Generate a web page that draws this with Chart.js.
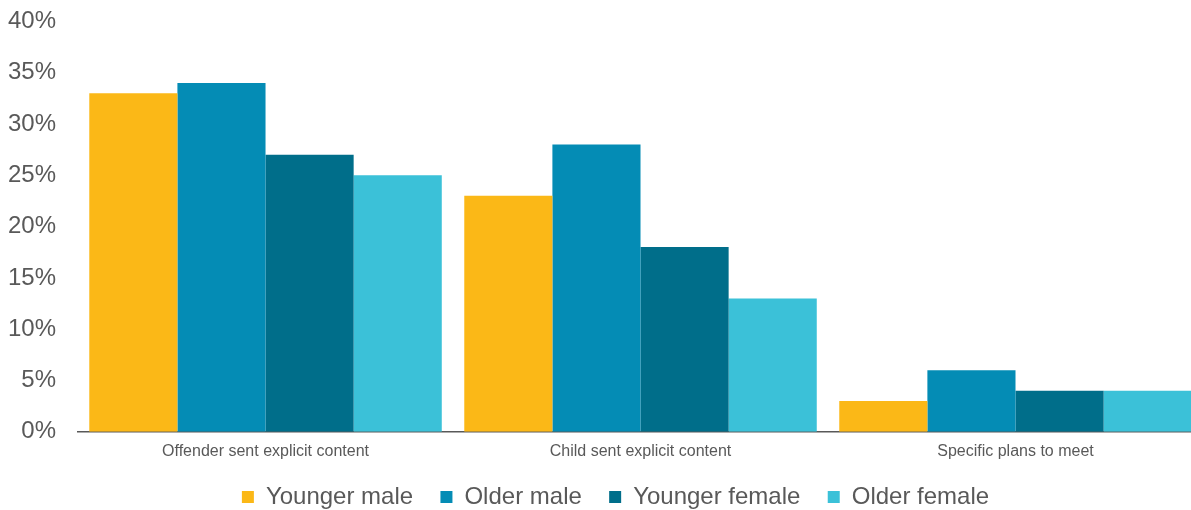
<!DOCTYPE html>
<html>
<head>
<meta charset="utf-8">
<script src="https://cdn.jsdelivr.net/npm/chart.js@4"></script>
<style>
  html, body { margin: 0; padding: 0; background: #fff; overflow: hidden; }
  #wrap { position: absolute; left: -14px; top: -15px; width: 1217px; height: 534px; }
</style>
</head>
<body>
<div id="wrap"><canvas id="chart"></canvas></div>
<script>
const categories = ['Offender sent explicit content', 'Child sent explicit content', 'Specific plans to meet'];
const youngerMale = [33, 23, 3];
const olderMale = [34, 28, 6];
const youngerFemale = [27, 18, 4];
const olderFemale = [25, 13, 4];
const tickValues = [0, 5, 10, 15, 20, 25, 30, 35, 40];

const font = 'Arial, "Liberation Sans", sans-serif';
const grey = '#595959';

const mk = (label, data, color) => ({
  label, data, backgroundColor: color, borderWidth: 0,
  barPercentage: 1, categoryPercentage: 0.94
});

// legend in the original sits a little right of centre
const legendShift = {
  id: 'legendShift',
  afterLayout(chart) { chart.legend.left += 42; }
};

new Chart(document.getElementById('chart'), {
  type: 'bar',
  data: {
    labels: categories,
    datasets: [
      mk('Younger male', youngerMale, '#FBB817'),
      mk('Older male', olderMale, '#048CB5'),
      mk('Younger female', youngerFemale, '#006E8A'),
      mk('Older female', olderFemale, '#3BC1D8')
    ]
  },
  options: {
    responsive: true,
    maintainAspectRatio: false,
    animation: false,
    layout: { padding: { left: 0, top: 4, right: 0, bottom: 0 } },
    scales: {
      x: {
        grid: { display: false, drawTicks: false },
        border: { display: true, color: grey, width: 1.5 },
        ticks: { color: grey, font: { family: font, size: 16 }, padding: 10 }
      },
      y: {
        min: 0, max: 40,
        afterBuildTicks: axis => { axis.ticks = tickValues.map(v => ({ value: v })); },
        grid: { display: false, drawTicks: false },
        border: { display: false },
        ticks: { color: grey, font: { family: font, size: 24 }, padding: 22, callback: v => v + '%' }
      }
    },
    plugins: {
      legend: {
        position: 'bottom',
        labels: {
          color: grey,
          font: { family: font, size: 24 },
          boxWidth: 12, boxHeight: 12, padding: 14,
          generateLabels: chart => {
            const items = Chart.defaults.plugins.legend.labels.generateLabels(chart);
            items.forEach((it, i) => { if (i < items.length - 1) it.text += '  '; });
            return items;
          }
        }
      },
      tooltip: { enabled: false }
    }
  },
  plugins: [legendShift]
});
</script>
</body>
</html>
